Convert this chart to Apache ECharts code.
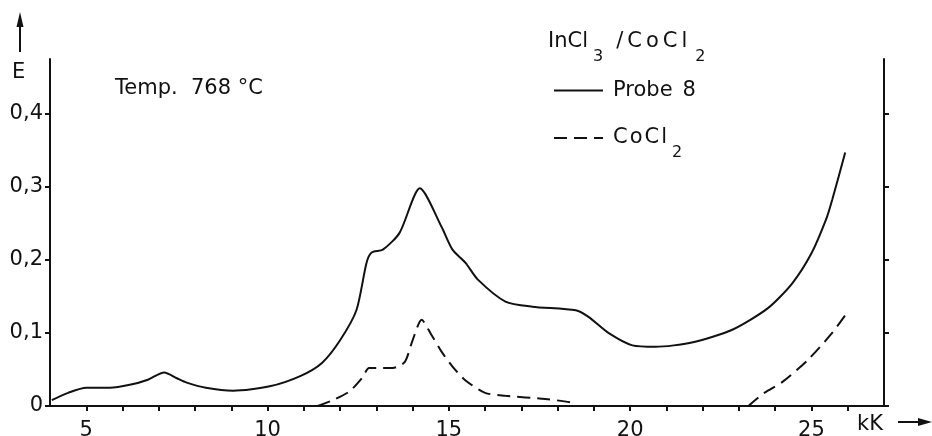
<!DOCTYPE html>
<html><head><meta charset="utf-8">
<script src="https://cdn.jsdelivr.net/npm/echarts@6/dist/echarts.min.js"></script>
<style>html,body{margin:0;padding:0;background:#fff}#c{width:932px;height:436px}</style>
</head><body><div id="c"></div>
<script>
// ---- data ----
const probeX = [4.05, 4.5, 5.0, 5.65, 6.2, 6.7, 7.15, 7.5, 7.77, 8.3, 9.05, 10.06, 10.9, 11.5, 12.0, 12.45, 12.73, 12.87, 13.18, 13.64, 14.2, 14.8, 15.1, 15.46, 15.8, 16.56, 17.3, 18.5, 18.85, 19.4, 20.06, 20.7, 21.7, 22.8, 23.8, 24.47, 25.0, 25.4, 25.57, 25.93];
const probeY = [0.008, 0.018, 0.025, 0.025, 0.029, 0.036, 0.046, 0.038, 0.032, 0.025, 0.021, 0.027, 0.041, 0.059, 0.09, 0.131, 0.196, 0.21, 0.214, 0.237, 0.298, 0.245, 0.214, 0.196, 0.173, 0.143, 0.136, 0.131, 0.122, 0.1, 0.083, 0.081, 0.087, 0.104, 0.134, 0.168, 0.209, 0.255, 0.282, 0.347];
const cocl2X = [11.38, 11.8, 12.26, 12.6, 12.8, 13.0, 13.45, 13.78, 14.0, 14.25, 14.5, 14.83, 15.1, 15.46, 16.0, 16.56, 17.66, 18.35, 18.5, null, 23.26, 23.7, 24.2, 24.9, 25.57, 26.0];
const cocl2Y = [0, 0.008, 0.02, 0.038, 0.052, 0.052, 0.052, 0.06, 0.09, 0.118, 0.099, 0.072, 0.054, 0.035, 0.018, 0.014, 0.0096, 0.005, 0.002, null, 0, 0.018, 0.033, 0.063, 0.1, 0.129];
const xLabelValues = [5, 10, 15, 20, 25];
const xTickValues = [5, 6, 7, 8, 9, 10, 11, 12, 13, 14, 15, 16, 17, 18, 19, 20, 21, 22, 23, 24, 25, 26];
const yTickValues = [0, 0.1, 0.2, 0.3, 0.4];
const seriesNames = ['Probe 8', 'CoCl2'];

const FONT = '"DejaVu Sans"';
const FS = 21;
const INK = '#111';
const toPairs = (xs, ys) => xs.map((x, i) => (x === null ? '-' : [x, ys[i]]));
const fmtY = v => (v === 0 ? '0' : v.toFixed(1).replace('.', ','));

const chart = echarts.init(document.getElementById('c'), null, {renderer: 'canvas'});
const base = {fontFamily: FONT, fontSize: FS, fontWeight: 'normal', color: INK, lineHeight: 26};
const subBase = {fontFamily: FONT, fontSize: 16, fontWeight: 'normal', color: INK, lineHeight: 26};
const titleRich = {
  a: Object.assign({}, base),
  b: Object.assign({}, base, {padding: [0, 0, 0, 4]}),
  m: Object.assign({}, base, {padding: [0, 4, 0, 13]}),
  s: Object.assign({}, subBase, {padding: [30, 0, 0, 5]}),
  t: Object.assign({}, subBase, {padding: [30, 0, 0, 8]})
};
const legendRich = {
  a: Object.assign({}, base),
  b: Object.assign({}, base, {padding: [0, 0, 0, 2]}),
  n: Object.assign({}, base, {padding: [0, 0, 0, 10]}),
  s: Object.assign({}, subBase, {padding: [30, 0, 0, 5]})
};
chart.setOption({
  animation: false,
  backgroundColor: '#fff',
  textStyle: {fontFamily: FONT, color: INK},
  grid: {left: 50, right: 48, top: 59, bottom: 30, containLabel: false, outerBoundsMode: 'none'},
  title: {
    text: '{a|InCl}{s|3}{m|/}{a|C}{b|o}{b|C}{b|l}{t|2}',
    left: 543, top: 24,
    textStyle: {fontWeight: 'normal', rich: titleRich}
  },
  legend: [
    {
      data: [seriesNames[0]], left: 548, top: 75, orient: 'vertical',
      itemWidth: 49, itemHeight: 18, itemGap: 14,
      itemStyle: {opacity: 0},
      formatter: () => '{a|Probe}{n|8}',
      textStyle: {fontFamily: FONT, fontSize: FS, color: INK, padding: [0, 0, 0, 5], rich: legendRich}
    },
    {
      data: [seriesNames[1]], left: 548, top: 110, orient: 'vertical',
      itemWidth: 49, itemHeight: 18, itemGap: 14,
      itemStyle: {opacity: 0},
      formatter: () => '{a|C}{b|o}{b|C}{b|l}{s|2}',
      textStyle: {fontFamily: FONT, fontSize: FS, color: INK, padding: [0, 0, 0, 5], rich: legendRich}
    }
  ],
  xAxis: {
    type: 'value', min: 4, max: 27, interval: 1,
    axisLine: {show: true, onZero: false, lineStyle: {color: INK, width: 2}},
    axisTick: {show: true, length: 5, inside: false, customValues: xTickValues, lineStyle: {color: INK, width: 2}},
    axisLabel: {customValues: xLabelValues, fontFamily: FONT, fontSize: FS, color: INK, margin: 14},
    splitLine: {show: false}
  },
  yAxis: [
    {
      type: 'value', min: 0, max: 0.475, position: 'left',
      axisLine: {show: true, onZero: false, lineStyle: {color: INK, width: 2}},
      axisTick: {show: true, length: 5, customValues: yTickValues, lineStyle: {color: INK, width: 2}},
      axisLabel: {customValues: yTickValues, formatter: fmtY, fontFamily: FONT, fontSize: FS, color: INK, margin: 7},
      splitLine: {show: false}
    },
    {
      type: 'value', min: 0, max: 0.475, position: 'right',
      axisLine: {show: true, onZero: false, lineStyle: {color: INK, width: 2}},
      axisTick: {show: true, length: 5, customValues: yTickValues, lineStyle: {color: INK, width: 2}},
      axisLabel: {show: false},
      splitLine: {show: false}
    }
  ],
  series: [
    {
      name: seriesNames[0], type: 'line', data: toPairs(probeX, probeY),
      smooth: 0.25, symbol: 'none', showSymbol: false,
      lineStyle: {color: INK, width: 2}, itemStyle: {color: INK}
    },
    {
      name: seriesNames[1], type: 'line', data: toPairs(cocl2X, cocl2Y),
      smooth: 0.25, symbol: 'none', showSymbol: false, connectNulls: false,
      lineStyle: {color: INK, width: 2, type: [13, 7]}, itemStyle: {color: INK}
    }
  ],
  graphic: [
    {type: 'text', left: 12, top: 62, style: {text: 'E', font: FS + 'px ' + FONT, fill: INK}},
    {type: 'line', shape: {x1: 20, y1: 52, x2: 20, y2: 22}, style: {stroke: INK, lineWidth: 2}},
    {type: 'polygon', shape: {points: [[16.5, 27], [20, 12], [23.5, 27]]}, style: {fill: INK}},
    {type: 'text', left: 115, top: 78, style: {text: 'Temp.  768 °C', font: FS + 'px ' + FONT, fill: INK}},
    {type: 'text', left: 857, top: 414, style: {text: 'kK', font: FS + 'px ' + FONT, fill: INK}},
    {type: 'line', shape: {x1: 898, y1: 422, x2: 920, y2: 422}, style: {stroke: INK, lineWidth: 2}},
    {type: 'polygon', shape: {points: [[918, 418], [932, 422], [918, 426]]}, style: {fill: INK}}
  ]
});
</script>
</body></html>
